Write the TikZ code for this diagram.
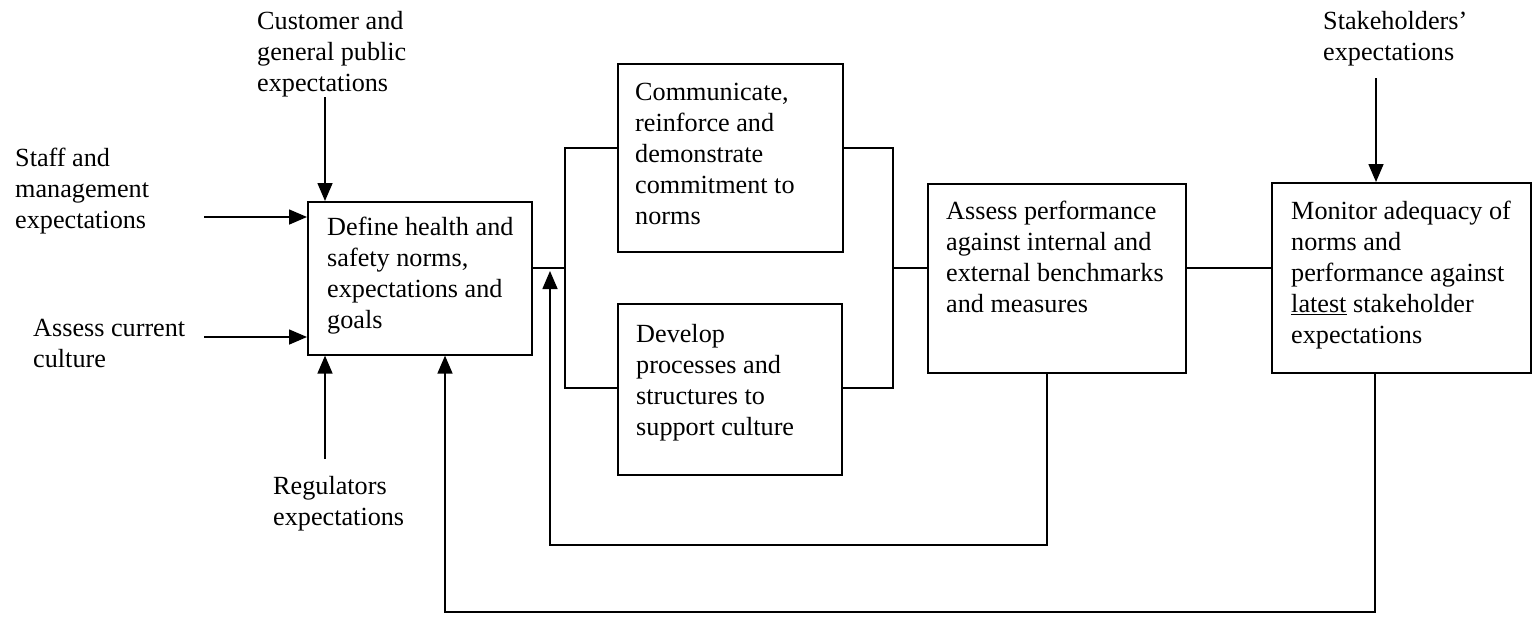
\documentclass[tikz,border=0pt]{standalone}
\usepackage{fontspec}
\setmainfont{Liberation Serif}
\usetikzlibrary{arrows.meta}

\begin{document}
\begin{tikzpicture}[x=1pt,y=-1pt,
  box/.style={draw, line width=1.6pt, anchor=north west, inner sep=0pt},
  lbl/.style={anchor=north west, inner sep=0pt, align=left, font=\fontsize{26.2}{31}\selectfont},
  wire/.style={line width=1.6pt},
  arr/.style={line width=1.6pt, -{Triangle[length=18pt,width=15pt]}}]
\useasboundingbox (0,0) rectangle (1538,622);

% boxes
\node[box, minimum width=224pt, minimum height=153pt] (define) at (307,201) {};
\node[box, minimum width=225pt, minimum height=188pt] (comm) at (617,63) {};
\node[box, minimum width=224pt, minimum height=171pt] (develop) at (617,303) {};
\node[box, minimum width=258pt, minimum height=189pt] (assess) at (927,183) {};
\node[box, minimum width=259pt, minimum height=190pt] (monitor) at (1271,182) {};

\node[lbl] (define-t) at (327,217) {Define health and\\safety norms,\\expectations and\\goals};
\node[lbl] (comm-t) at (635,83) {Communicate,\\reinforce and\\demonstrate\\commitment to\\norms};
\node[lbl] (develop-t) at (636,324) {Develop\\processes and\\structures to\\support culture};
\node[lbl] (assess-t) at (946,201) {Assess performance\\against internal and\\external benchmarks\\and measures};
\node[lbl] (monitor-t) at (1291,201) {Monitor adequacy of\\norms and\\performance against\\\underline{latest} stakeholder\\expectations};

% inputs
\node[lbl] (customer-t) at (257,11) {Customer and\\general public\\expectations};
\node[lbl] (staff-t) at (15,148) {Staff and\\management\\expectations};
\node[lbl] (culture-t) at (33,319) {Assess current\\culture};
\node[lbl] (regulators-t) at (273,476) {Regulators\\expectations};
\node[lbl] (stake-t) at (1323,11) {Stakeholders’\\expectations};

\coordinate (cust-in) at (325,97);
\coordinate (staff-in) at (204,217);
\coordinate (cult-in) at (204,337);
\coordinate (reg-in) at (325,459);
\coordinate (stake-in) at (1376,78);
\draw[arr] (cust-in) -- (cust-in |- define.north);
\draw[arr] (staff-in) -- (staff-in -| define.west);
\draw[arr] (cult-in) -- (cult-in -| define.west);
\draw[arr] (reg-in) -- (reg-in |- define.south);
\draw[arr] (stake-in) -- (stake-in |- monitor.north);

% parallel branch
\coordinate (lj) at (565,268);
\coordinate (rj) at (893,268);
\coordinate (ltop) at (565,148);
\coordinate (lbot) at (565,388);
\coordinate (rtop) at (893,148);
\coordinate (rbot) at (893,388);
\draw[wire] (define.east |- lj) -- (lj);
\draw[wire] (comm.west |- ltop) -- (ltop) -- (lbot) -- (develop.west |- lbot);
\draw[wire] (comm.east |- rtop) -- (rtop) -- (rbot) -- (develop.east |- rbot);
\draw[wire] (rj) -- (assess.west |- rj);
\draw[wire] (assess.east |- rj) -- (monitor.west |- rj);

% feedback loops
\coordinate (fb-in-r) at (1047,545);
\coordinate (fb-in-l) at (550,545);
\coordinate (fb-in-top) at (550,271);
\coordinate (fb-out-r) at (1375,612);
\coordinate (fb-out-l) at (445,612);
\draw[arr] (assess.south -| fb-in-r) -- (fb-in-r) -- (fb-in-l) -- (fb-in-top);
\draw[arr] (monitor.south -| fb-out-r) -- (fb-out-r) -- (fb-out-l) -- (fb-out-l |- define.south);
\end{tikzpicture}
\end{document}
